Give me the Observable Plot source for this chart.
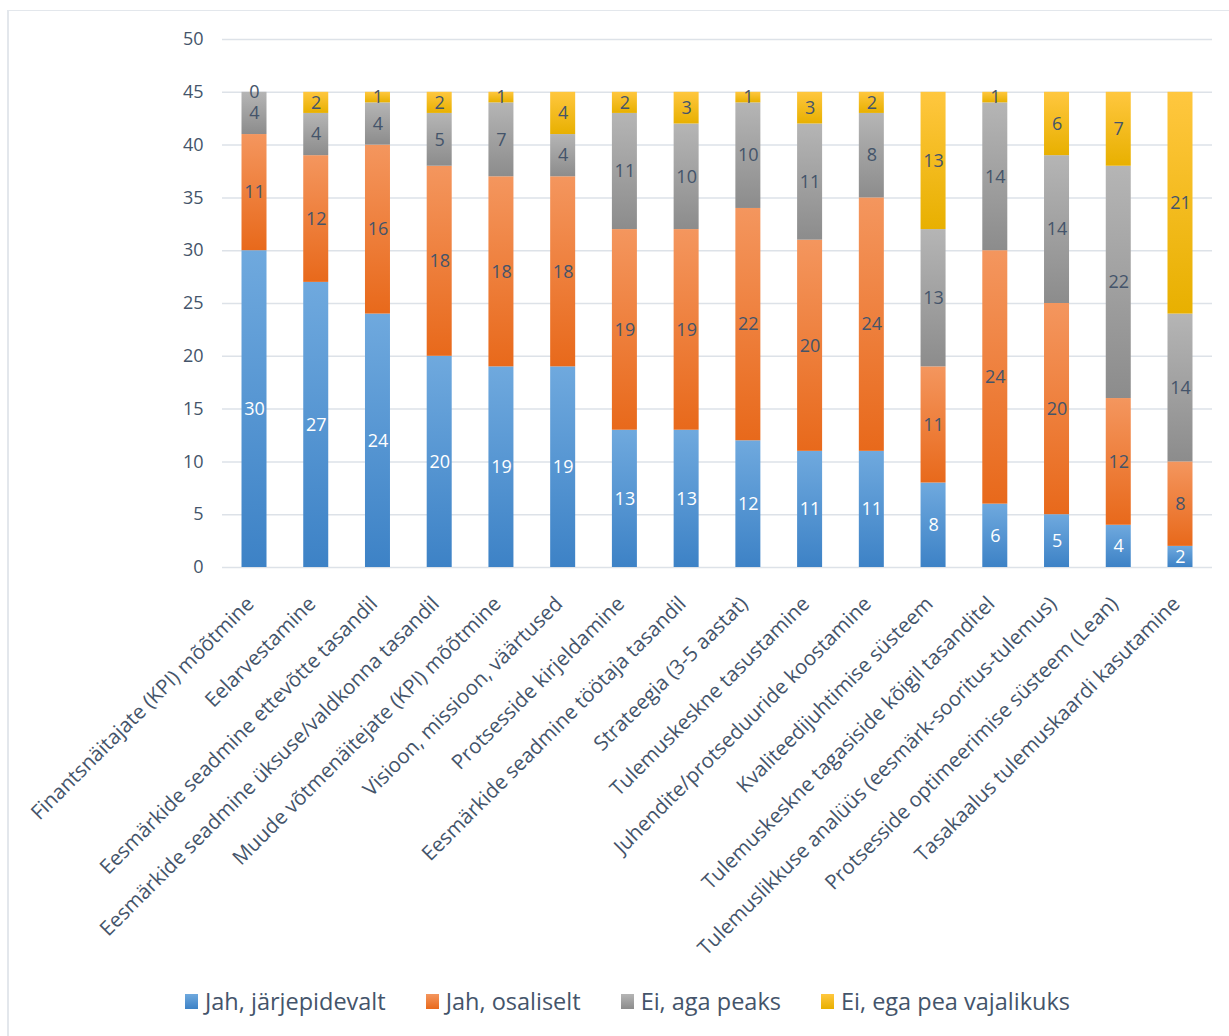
<!DOCTYPE html>
<html>
<head>
<meta charset="utf-8">
<script src="https://cdn.jsdelivr.net/npm/d3@7"></script>
<script src="https://cdn.jsdelivr.net/npm/@observablehq/plot@0.6"></script>
<style>
  html, body { margin: 0; padding: 0; background: #fff; }
  body { width: 1229px; height: 1036px; position: relative; overflow: hidden; font-family: "Open Sans", sans-serif; }
  #frame { position: absolute; left: 7px; top: 10px; width: 1230px; height: 1040px; border-left: 2px solid #e3e7ec; border-top: 1px solid #e3e7ec; box-sizing: border-box; }
  #chart { position: absolute; left: 0; top: 0; }
  #legend { position: absolute; left: 185px; top: 985px; display: flex; gap: 40px; font-size: 23.5px; color: #44546a; white-space: nowrap; }
  .item { display: flex; align-items: center; }
  .sw { width: 13px; height: 15px; margin-right: 7px; display: inline-block; }
</style>
</head>
<body>
<div id="frame"></div>
<div id="chart"></div>
<div id="legend"></div>
<script>
const categories = [
  "Finantsnäitajate (KPI) mõõtmine",
  "Eelarvestamine",
  "Eesmärkide seadmine ettevõtte tasandil",
  "Eesmärkide seadmine üksuse/valdkonna tasandil",
  "Muude võtmenäitejate (KPI) mõõtmine",
  "Visioon, missioon, väärtused",
  "Protsesside kirjeldamine",
  "Eesmärkide seadmine töötaja tasandil",
  "Strateegia (3-5 aastat)",
  "Tulemuskeskne tasustamine",
  "Juhendite/protseduuride koostamine",
  "Kvaliteedijuhtimise süsteem",
  "Tulemuskeskne tagasiside kõigil tasanditel",
  "Tulemuslikkuse analüüs (eesmärk-sooritus-tulemus)",
  "Protsesside optimeerimise süsteem (Lean)",
  "Tasakaalus tulemuskaardi kasutamine"
];
const seriesNames = ["Jah, järjepidevalt", "Jah, osaliselt", "Ei, aga peaks", "Ei, ega pea vajalikuks"];
const jarjepidevalt = [30, 27, 24, 20, 19, 19, 13, 13, 12, 11, 11, 8, 6, 5, 4, 2];
const osaliselt     = [11, 12, 16, 18, 18, 18, 19, 19, 22, 20, 24, 11, 24, 20, 12, 8];
const agaPeaks      = [4, 4, 4, 5, 7, 4, 11, 10, 10, 11, 8, 13, 14, 14, 22, 14];
const egaPea        = [0, 2, 1, 2, 1, 4, 2, 3, 1, 3, 2, 13, 1, 6, 7, 21];
const yTicks = [0, 5, 10, 15, 20, 25, 30, 35, 40, 45, 50];

const gradients = [
  ["g0", "#6fa9de", "#3d82c6"],
  ["g1", "#f4965e", "#e8691b"],
  ["g2", "#b5b5b5", "#8c8c8c"],
  ["g3", "#ffc73f", "#e8b000"]
];
const textColors = ["#ffffff", "#44546a", "#44546a", "#44546a"];

const seriesValues = [jarjepidevalt, osaliselt, agaPeaks, egaPea];
const data = [];
seriesNames.forEach((s, si) => {
  categories.forEach((c, ci) => {
    data.push({cat: c, series: s, si, value: seriesValues[si][ci]});
  });
});

function defsMark() {
  const defs = d3.create("svg:defs");
  gradients.forEach(([id, top, bottom]) => {
    const g = defs.append("linearGradient").attr("id", id)
      .attr("x1", 0).attr("y1", 0).attr("x2", 0).attr("y2", 1);
    g.append("stop").attr("offset", "0%").attr("stop-color", top);
    g.append("stop").attr("offset", "100%").attr("stop-color", bottom);
  });
  return defs.node();
}

const plot = Plot.plot({
  width: 1229,
  height: 975,
  marginLeft: 222,
  marginRight: 17,
  marginTop: 39,
  marginBottom: 408,
  style: {fontFamily: "Open Sans, sans-serif", background: "transparent", overflow: "visible"},
  x: {domain: categories, paddingInner: 0.595, paddingOuter: 0.316, round: false},
  y: {domain: [0, 50]},
  color: {type: "identity"},
  marks: [
    defsMark,
    Plot.gridY(yTicks, {stroke: "#dde2e8", strokeOpacity: 1, strokeWidth: 1.5}),
    Plot.barY(data, Plot.stackY({x: "cat", y: "value", z: "series", fill: d => `url(#${gradients[d.si][0]})`})),
    Plot.text(data, Plot.stackY({x: "cat", y: "value", z: "series", text: d => String(d.value),
      fill: d => textColors[d.si], fontSize: 18})),
    Plot.axisY({ticks: yTicks, tickSize: 0, tickPadding: 19, fontSize: 18, color: "#44546a", label: null}),
    Plot.axisX({tickSize: 0, tickPadding: 0, rotate: -45, textAnchor: "end", lineAnchor: "middle",
      dy: 33, dx: -4, fontSize: 20.5, color: "#44546a", label: null})
  ]
});
document.getElementById("chart").appendChild(plot);

const legend = document.getElementById("legend");
seriesNames.forEach((s, i) => {
  const item = document.createElement("div");
  item.className = "item";
  const sw = document.createElement("span");
  sw.className = "sw";
  sw.style.background = `linear-gradient(to bottom, ${gradients[i][1]}, ${gradients[i][2]})`;
  const t = document.createElement("span");
  t.textContent = s;
  item.appendChild(sw);
  item.appendChild(t);
  legend.appendChild(item);
});
</script>
</body>
</html>
